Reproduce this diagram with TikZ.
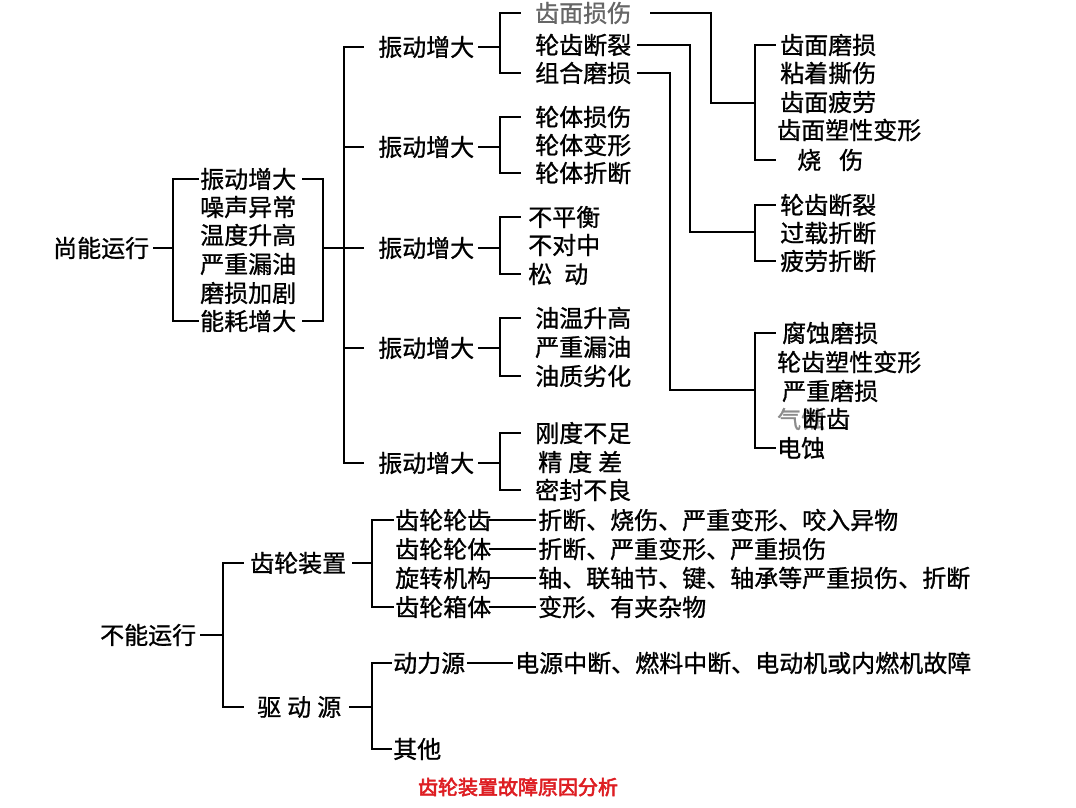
\documentclass[tikz,border=0pt]{standalone}
\usepackage{fontspec}
\newfontfamily\cjk[FakeBold=0.9]{Noto Sans CJK SC}
\newfontfamily\cjkb[FakeBold=3]{Noto Sans CJK SC}
\definecolor{capred}{RGB}{222,30,35}
\begin{document}
\begin{tikzpicture}[x=1pt,y=-1pt,
  t/.style={font=\cjk\fontsize{24}{24}\selectfont, inner xsep=2pt, inner ysep=0pt, anchor=west},
  ln/.style={line width=1.5pt, line cap=rect},
  dl/.style={line width=1.2pt}]
\useasboundingbox (0,0) rectangle (1076,808);
\fill[white] (0,0) rectangle (1076,808);
% ---- upper tree ----
\node[t] (sn) at (51,248) {尚能运行};
\node[t] (s1) at (198,179) {振动增大};
\node[t] (s2) at (198,207) {噪声异常};
\node[t] (s3) at (198,235) {温度升高};
\node[t] (s4) at (198,264) {严重漏油};
\node[t] (s5) at (198,293) {磨损加剧};
\node[t] (s6) at (198,321) {能耗增大};
\node[t] (v1) at (376,47) {振动增大};
\node[t] (v2) at (376,147) {振动增大};
\node[t] (v3) at (376,248) {振动增大};
\node[t] (v4) at (376,348) {振动增大};
\node[t] (v5) at (376,463) {振动增大};
\node[t, text=black!60] (a1) at (533,13) {齿面损伤};
\node[t] (a2) at (533,45) {轮齿断裂};
\node[t] (a3) at (533,73) {组合磨损};
\node[t] (b1) at (533,117) {轮体损伤};
\node[t] (b2) at (533,145) {轮体变形};
\node[t] (b3) at (533,173) {轮体折断};
\node[t] (c1) at (526,217) {不平衡};
\node[t] (c2) at (526,245) {不对中};
\node[t] (c3) at (526,274) {松\hspace{0.5em}动};
\node[t] (d1) at (533,318) {油温升高};
\node[t] (d2) at (533,347) {严重漏油};
\node[t] (d3) at (533,376) {油质劣化};
\node[t] (e1) at (533,433) {刚度不足};
\node[t] (e2) at (536,462) {精\hspace{0.25em}度\hspace{0.25em}差};
\node[t] (e3) at (533,490) {密封不良};
\node[t] (f1) at (778,45) {齿面磨损};
\node[t] (f2) at (778,73) {粘着撕伤};
\node[t] (f3) at (778,102) {齿面疲劳};
\node[t] (f4) at (775,130) {齿面塑性变形};
\node[t] (f5) at (795,160) {烧\hspace{0.75em}伤};
\node[t] (g1) at (778,205) {轮齿断裂};
\node[t] (g2) at (778,233) {过载折断};
\node[t] (g3) at (778,261) {疲劳折断};
\node[t] (h1) at (780,333) {腐蚀磨损};
\node[t] (h2) at (775,362) {轮齿塑性变形};
\node[t] (h3) at (780,391) {严重磨损};
\node[t, text=black!45] (h4a) at (775,419) {气蚀};
\node[t] (h4) at (800,419) {断齿};
\node[t] (h5) at (775,448) {电蚀};
% connectors upper
\draw[ln] ([xshift=2]sn.east) -- (173,248);
\draw[ln] (s1.west) -| (173,248) |- (s6.west);
\draw[ln] ([xshift=4]s1.east) -| (323,248) |- ([xshift=4]s6.east);
\draw[ln] (323,248) -- (344,248);
\draw[ln] (344,47) -- (344,463);
\draw[ln] (344,47) -- ([xshift=-13]v1.west);
\draw[ln] (344,147) -- ([xshift=-13]v2.west);
\draw[ln] (344,248) -- ([xshift=-13]v3.west);
\draw[ln] (344,348) -- ([xshift=-13]v4.west);
\draw[ln] (344,463) -- ([xshift=-13]v5.west);
\draw[ln] ([xshift=2]v1.east) -- (500,47);
\draw[ln] ([xshift=2]v2.east) -- (500,147);
\draw[ln] ([xshift=2]v3.east) -- (500,248);
\draw[ln] ([xshift=2]v4.east) -- (500,348);
\draw[ln] ([xshift=2]v5.east) -- (500,463);
\draw[ln] ([xshift=-13]a1.west) -| (500,47) |- ([xshift=-13]a3.west);
\draw[ln] ([xshift=-13]b1.west) -| (500,147) |- ([xshift=-13]b3.west);
\draw[ln] ([xshift=-6]c1.west) -| (500,248) |- ([xshift=-6]c3.west);
\draw[ln] ([xshift=-13]d1.west) -| (500,348) |- ([xshift=-13]d3.west);
\draw[ln] ([xshift=-13]e1.west) -| (500,463) |- ([xshift=-13]e3.west);
% long connectors
\draw[ln] ([xshift=17]a1.east) -| (711,103) -- (755,103);
\draw[ln] ([xshift=-3]f1.west) -| (755,103) |- ([xshift=-20]f5.west);
\draw[ln] ([xshift=4]a2.east) -| (690,232) -- (755,232);
\draw[ln] ([xshift=-3]g1.west) -| (755,232) |- ([xshift=-3]g3.west);
\draw[ln] ([xshift=4]a3.east) -| (670,390) -- (755,390);
\draw[ln] ([xshift=-5]h1.west) -| (755,390) |- (h5.west);
% ---- lower tree ----
\node[t] (bn) at (98,635) {不能运行};
\node[t] (gz) at (248,563) {齿轮装置};
\node[t] (qd) at (255,707) {驱\hspace{0.25em}动\hspace{0.25em}源};
\node[t] (k1) at (393,520) {齿轮轮齿};
\node[t] (k2) at (393,549) {齿轮轮体};
\node[t] (k3) at (393,578) {旋转机构};
\node[t] (k4) at (393,607) {齿轮箱体};
\node[t] (m1) at (536,520) {折断、烧伤、严重变形、咬入异物};
\node[t] (m2) at (536,549) {折断、严重变形、严重损伤};
\node[t] (m3) at (536,578) {轴、联轴节、键、轴承等严重损伤、折断};
\node[t] (m4) at (536,607) {变形、有夹杂物};
\node[t] (p1) at (391,663) {动力源};
\node[t] (p2) at (391,749) {其他};
\node[t] (pd) at (513,663) {电源中断、燃料中断、电动机或内燃机故障};
\node[font=\cjkb\fontsize{20}{20}\selectfont, text=capred, inner sep=0pt] (cap) at (518,787) {齿轮装置故障原因分析};
\draw[ln] ([xshift=2]bn.east) -- (223,635);
\draw[ln] ([xshift=-5]gz.west) -| (223,635) |- ([xshift=-12]qd.west);
\draw[ln] ([xshift=4]gz.east) -- (372,563);
\draw[ln] (k1.west) -| (372,563) |- (k4.west);
\draw[ln] ([xshift=6]qd.east) -- (372,707);
\draw[ln] (p1.west) -| (372,707) |- (p2.west);
\draw[dl] ([xshift=-4]k1.east) -- (m1.west);
\draw[dl] ([xshift=-4]k2.east) -- (m2.west);
\draw[dl] ([xshift=-4]k3.east) -- (m3.west);
\draw[dl] ([xshift=-4]k4.east) -- (m4.west);
\draw[dl] (p1.east) -- (pd.west);
\end{tikzpicture}
\end{document}
